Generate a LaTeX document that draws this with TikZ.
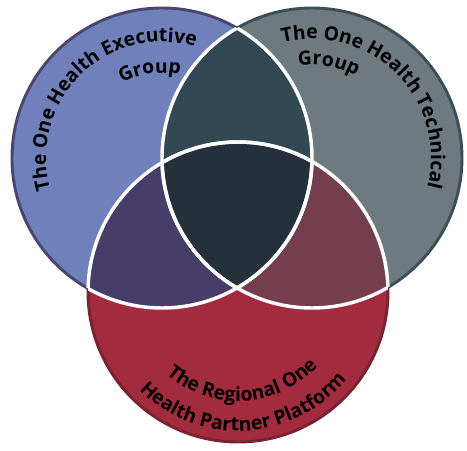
\documentclass[tikz,border=0pt]{standalone}
\usepackage{fontspec}
\setmainfont{Open Sans}
\usetikzlibrary{decorations.text}
\definecolor{execfill}{RGB}{111,128,187}
\definecolor{execrim}{RGB}{74,70,112}
\definecolor{techfill}{RGB}{111,121,128}
\definecolor{techrim}{RGB}{58,80,86}
\definecolor{partfill}{RGB}{162,44,61}
\definecolor{partrim}{RGB}{122,34,50}
\definecolor{exectech}{RGB}{50,72,82}
\definecolor{execpart}{RGB}{70,62,105}
\definecolor{techpart}{RGB}{116,62,78}
\definecolor{corefill}{RGB}{36,48,58}
\newcommand\vennfont{\bfseries\fontsize{14.5}{16}\selectfont}
\begin{document}
\begin{tikzpicture}[x=.75pt,y=.75pt,
  rim/.style={line width=2.2pt},
  seam/.style={draw=white,line width=2.6pt},
  arctext/.style={decorate,decoration={text along path,text align=center,text={|\vennfont|#1}}}]
\useasboundingbox (0,0) rectangle (467,450);
\coordinate (L) at (162,292);
\coordinate (R) at (312,292);
\coordinate (B) at (238,158);
\filldraw[fill=execfill,draw=execrim,rim] (L) circle[radius=150];
\filldraw[fill=techfill,draw=techrim,rim] (R) circle[radius=150];
\filldraw[fill=partfill,draw=partrim,rim] (B) circle[radius=150];
\begin{scope}
\clip (R) circle[radius=150];
\fill[techpart] (B) circle[radius=150];
\end{scope}
\begin{scope}
\clip (L) circle[radius=150];
\fill[exectech] (R) circle[radius=150];
\fill[execpart] (B) circle[radius=150];
\clip (R) circle[radius=150];
\fill[corefill] (B) circle[radius=150];
\end{scope}
\foreach \a/\b in {L/R,L/B,R/L,R/B,B/L,B/R}{
  \begin{scope}
  \clip (\a) circle[radius=150];
  \draw[seam] (\b) circle[radius=150];
  \end{scope}}
\path[arctext={The One Health Executive}] ([shift={(205:116)}]L) arc[start angle=205,end angle=64,radius=116];
\path[arctext={Group}] ([shift={(140:85)}]L) arc[start angle=140,end angle=56,radius=85];
\path[arctext={The One Health Technical}] ([shift={(116:119)}]R) arc[start angle=116,end angle=-26,radius=119];
\path[arctext={Group}] ([shift={(122:93)}]R) arc[start angle=122,end angle=38,radius=93];
\path[arctext={The Regional One}] ([shift={(213:109)}]B) arc[start angle=213,end angle=333,radius=109];
\path[arctext={Health Partner Platform}] ([shift={(213:139)}]B) arc[start angle=213,end angle=333,radius=139];
\end{tikzpicture}
\end{document}
